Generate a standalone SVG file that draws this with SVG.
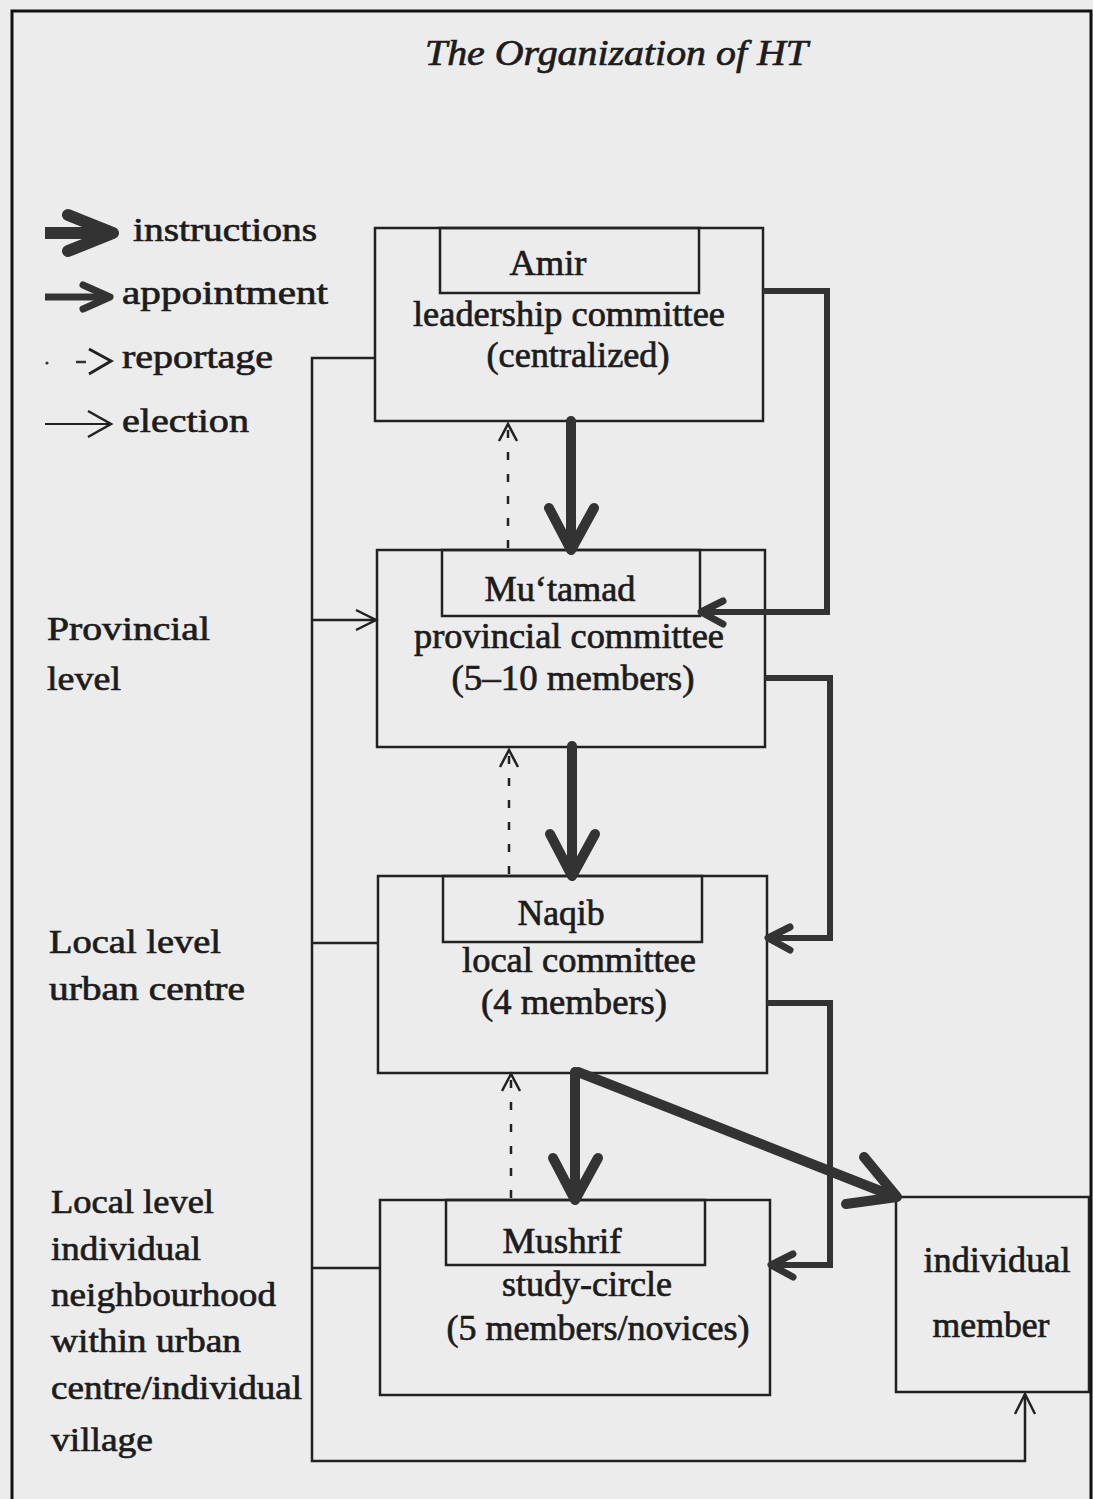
<svg xmlns="http://www.w3.org/2000/svg" width="1093" height="1499" viewBox="0 0 1093 1499">
<style>
text{font-family:"Liberation Serif","Times New Roman",serif;fill:#1c1c1c;stroke:#1c1c1c;stroke-width:0.7}
.bx{font-size:36px;text-anchor:middle}
.lb{font-size:34px}
.lg{font-size:34px}
.box{fill:none;stroke:#222;stroke-width:2.5}
.el{fill:none;stroke:#222;stroke-width:2.5}
.ins{fill:none;stroke:#333;stroke-width:10;stroke-linecap:round;stroke-linejoin:round}
.app{fill:none;stroke:#333;stroke-width:6;stroke-linejoin:miter}
.apph{fill:none;stroke:#333;stroke-width:7;stroke-linecap:round;stroke-linejoin:round}
.rep{fill:none;stroke:#222;stroke-width:2.5;stroke-dasharray:8 14}
.reph{fill:none;stroke:#222;stroke-width:2.5}
</style>
<rect x="0" y="0" width="1093" height="1499" fill="#ececec"/>
<path d="M12 1510 V11 H1091 V1510" fill="none" stroke="#111" stroke-width="3"/>
<text x="425" y="65" font-size="36" font-style="italic" textLength="383" lengthAdjust="spacingAndGlyphs">The Organization of HT</text>

<g id="legend">
<path d="M45 233 H108" stroke="#333" stroke-width="12" fill="none"/>
<path d="M68 215 L113 233 L68 251" class="ins" style="stroke-width:12"/>
<text class="lg" x="133" y="241" textLength="184" lengthAdjust="spacingAndGlyphs">instructions</text>
<path d="M45 297 H105" stroke="#333" stroke-width="7" fill="none"/>
<path d="M83 285 L110 297 L83 309" class="apph"/>
<text class="lg" x="122" y="304" textLength="206" lengthAdjust="spacingAndGlyphs">appointment</text>
<circle cx="47" cy="363" r="1.6" fill="#333"/>
<path d="M76 362 H86" stroke="#333" stroke-width="2.5"/>
<path d="M89 349 L111 361 L89 374" fill="none" stroke="#222" stroke-width="3"/>
<text class="lg" x="122" y="368" textLength="151" lengthAdjust="spacingAndGlyphs">reportage</text>
<path d="M45 424 H110" stroke="#222" stroke-width="2"/>
<path d="M88 411 L111 424 L88 437" fill="none" stroke="#222" stroke-width="2.5"/>
<text class="lg" x="122" y="432" textLength="127" lengthAdjust="spacingAndGlyphs">election</text>
</g>

<g id="level-labels">
<text class="lb" x="47" y="640" textLength="163" lengthAdjust="spacingAndGlyphs">Provincial</text>
<text class="lb" x="47" y="690" textLength="74" lengthAdjust="spacingAndGlyphs">level</text>
<text class="lb" x="49" y="953" textLength="172" lengthAdjust="spacingAndGlyphs">Local level</text>
<text class="lb" x="49" y="1000" textLength="196" lengthAdjust="spacingAndGlyphs">urban centre</text>
<text class="lb" x="51" y="1213" textLength="163" lengthAdjust="spacingAndGlyphs">Local level</text>
<text class="lb" x="51" y="1260" textLength="150" lengthAdjust="spacingAndGlyphs">individual</text>
<text class="lb" x="51" y="1306" textLength="225" lengthAdjust="spacingAndGlyphs">neighbourhood</text>
<text class="lb" x="51" y="1352" textLength="190" lengthAdjust="spacingAndGlyphs">within urban</text>
<text class="lb" x="51" y="1399" textLength="251" lengthAdjust="spacingAndGlyphs">centre/individual</text>
<text class="lb" x="51" y="1451" textLength="102" lengthAdjust="spacingAndGlyphs">village</text>
</g>

<g id="amir">
<rect class="box" x="375" y="228" width="388" height="193"/>
<rect class="box" x="440" y="228" width="259" height="65"/>
<text class="bx" x="548" y="275" textLength="77" lengthAdjust="spacingAndGlyphs">Amir</text>
<text class="bx" x="569" y="326" textLength="312" lengthAdjust="spacingAndGlyphs">leadership committee</text>
<text class="bx" x="578" y="367" textLength="183" lengthAdjust="spacingAndGlyphs">(centralized)</text>
</g>

<g id="mutamad">
<rect class="box" x="377" y="550" width="388" height="197"/>
<rect class="box" x="442" y="550" width="258" height="66"/>
<text class="bx" x="560" y="601" textLength="151" lengthAdjust="spacingAndGlyphs">Mu‘tamad</text>
<text class="bx" x="569" y="648" textLength="310" lengthAdjust="spacingAndGlyphs">provincial committee</text>
<text class="bx" x="573" y="690" textLength="243" lengthAdjust="spacingAndGlyphs">(5–10 members)</text>
</g>

<g id="naqib">
<rect class="box" x="378" y="876" width="389" height="197"/>
<rect class="box" x="443" y="876" width="259" height="66"/>
<text class="bx" x="561" y="925" textLength="87" lengthAdjust="spacingAndGlyphs">Naqib</text>
<text class="bx" x="579" y="972" textLength="234" lengthAdjust="spacingAndGlyphs">local committee</text>
<text class="bx" x="574" y="1014" textLength="186" lengthAdjust="spacingAndGlyphs">(4 members)</text>
</g>

<g id="mushrif">
<rect class="box" x="380" y="1200" width="390" height="195"/>
<rect class="box" x="446" y="1200" width="259" height="65"/>
<text class="bx" x="562" y="1253" textLength="119" lengthAdjust="spacingAndGlyphs">Mushrif</text>
<text class="bx" x="587" y="1296" textLength="170" lengthAdjust="spacingAndGlyphs">study-circle</text>
<text class="bx" x="598" y="1340" textLength="303" lengthAdjust="spacingAndGlyphs">(5 members/novices)</text>
</g>

<g id="individual-member">
<rect class="box" x="896" y="1197" width="193" height="195"/>
<text class="bx" x="997" y="1272" textLength="147" lengthAdjust="spacingAndGlyphs">individual</text>
<text class="bx" x="991" y="1337" textLength="117" lengthAdjust="spacingAndGlyphs">member</text>
</g>

<g id="connectors">
<path class="el" d="M375 358 H312 V1461 H1025 V1394"/>
<path class="el" d="M1015 1414 L1025 1394 L1035 1414"/>
<path class="el" d="M312 620 H376"/>
<path class="el" d="M356 610 L376 620 L356 630"/>
<path class="el" d="M312 943 H378"/>
<path class="el" d="M312 1268 H380"/>
<path class="rep" d="M508 548 V428"/>
<path class="reph" d="M499 441 L508 424 L517 441"/>
<path class="rep" d="M509 874 V754"/>
<path class="reph" d="M500 767 L509 750 L518 767"/>
<path class="rep" d="M511 1198 V1078"/>
<path class="reph" d="M502 1091 L511 1074 L520 1091"/>
<path class="app" d="M763 291 H827 V612 H703"/>
<path class="apph" d="M723 601 L701 612 L723 624"/>
<path class="app" d="M765 678 H830 V938 H770"/>
<path class="apph" d="M790 927 L768 938 L790 950"/>
<path class="app" d="M767 1003 H830 V1265 H773"/>
<path class="apph" d="M793 1254 L771 1265 L793 1277"/>
<path class="ins" d="M571 421 V548"/>
<path class="ins" d="M549 508 L571 550 L594 508"/>
<path class="ins" d="M572 746 V874"/>
<path class="ins" d="M550 834 L572 876 L595 834"/>
<path class="ins" d="M575 1072 V1198"/>
<path class="ins" d="M553 1158 L575 1200 L598 1158"/>
<path class="ins" d="M578 1072 L893 1196"/>
<path class="ins" d="M864 1157 L897 1197 L846 1204"/>
</g>
</svg>
